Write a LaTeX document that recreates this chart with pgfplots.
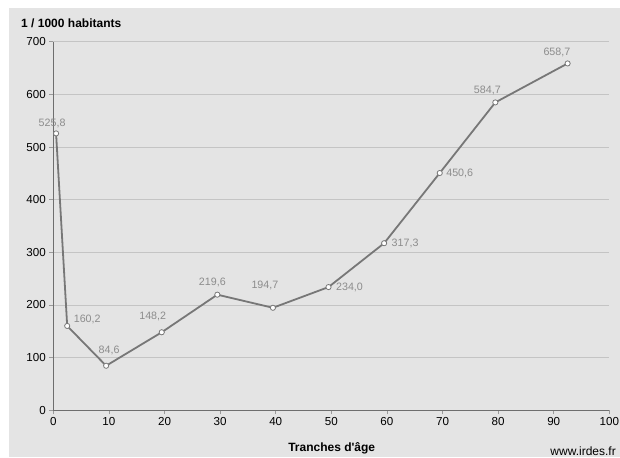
\documentclass[border=0pt]{standalone}
\usepackage{pgfplots}
\pgfplotsset{compat=1.18}
\usepackage{pgfplotstable}
\usepackage{fontspec}
\setmainfont{Liberation Sans}[Ligatures=TeXOff]
\definecolor{bg}{HTML}{E4E4E4}
\definecolor{gridc}{HTML}{C4C4C4}
\definecolor{axisc}{HTML}{6E6E6E}
\definecolor{tickc}{HTML}{9A9A9A}
\definecolor{linec}{HTML}{777777}
\definecolor{labc}{HTML}{8C8C8C}

\pgfplotstableread{
x y lab dx dy
0.5 525.8 {525,8} -4 10
2.5 160.2 {160,2} 20 6
9.5 84.6 {84,6} 3 15
19.5 148.2 {148,2} -9 15.6
29.5 219.6 {219,6} -5 12
39.5 194.7 {194,7} -8 22
49.5 234.0 {234,0} 21 0
59.5 317.3 {317,3} 21 0
69.5 450.6 {450,6} 20 0
79.5 584.7 {584,7} -8 12.4
92.5 658.7 {658,7} -10.7 10.7
}\datatable

\begin{document}
\begin{tikzpicture}
\useasboundingbox (0,0) rectangle (620pt,457pt);
\fill[bg] (9pt,0) rectangle (620pt,449pt);
\begin{axis}[
  at={(53.3pt,46.7pt)}, anchor=south west,
  scale only axis, width=556pt, height=368.6pt,
  xmin=0, xmax=100, ymin=0, ymax=700,
  axis lines=left,
  axis line style={-, draw=axisc, line width=0.8pt},
  xtick={0,10,...,100}, ytick={0,100,...,700},
  tick align=outside, major tick length=4pt,
  tick style={draw=tickc, line width=0.8pt},
  ymajorgrids, grid style={draw=gridc, line width=0.8pt},
  tick label style={font=\fontsize{11.6}{13}\selectfont, text=black},
  /pgf/number format/assume math mode=true,
  clip=false,
]
\addplot[draw=linec, line width=1.8pt, mark=*, mark size=2.6pt,
  mark options={fill=white, draw=linec, line width=0.8pt},
  point meta=explicit symbolic,
  visualization depends on={\thisrow{dx} \as \dx},
  visualization depends on={\thisrow{dy} \as \dy},
  nodes near coords,
  nodes near coords style={anchor=center, xshift=\dx pt, yshift=\dy pt,
    font=\fontsize{10.7}{12}\selectfont, text=labc, inner sep=0pt},
] table[x=x, y=y, meta=lab] {\datatable};
\end{axis}
\node[anchor=west, font=\bfseries\fontsize{12}{14}\selectfont] at (17.7pt,433.7pt) {1 / 1000 habitants};
\node[font=\bfseries\fontsize{12}{14}\selectfont] at (331.7pt,8.7pt) {Tranches d'âge};
\node[anchor=east, font=\fontsize{12}{14}\selectfont, inner sep=0pt] at (616pt,6pt) {www.irdes.fr};
\end{tikzpicture}
\end{document}
